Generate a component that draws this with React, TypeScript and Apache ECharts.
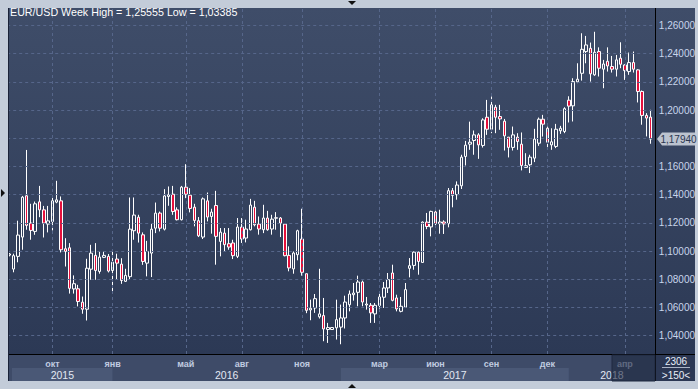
import React, { useEffect, useRef } from 'react';
import * as echarts from 'echarts';

// ---- data (weekly EUR/USD candles) ----
const opens = [
  1.0971, 1.0872, 1.0962, 1.1099, 1.1392, 1.1198, 1.1139, 1.1349, 1.1292, 1.1191,
  1.1209, 1.1347, 1.1356, 1.1016, 1.1023, 1.0731, 1.0732, 1.0637, 1.0587, 1.0871,
  1.0969, 1.0855, 1.0955, 1.0962, 1.0862, 1.0943, 1.0907, 1.0785, 1.0818, 1.1144,
  1.1240, 1.1115, 1.0914, 1.0985, 1.1162, 1.1269, 1.1155, 1.1387, 1.1403, 1.1292,
  1.1222, 1.1453, 1.1396, 1.1311, 1.1215, 1.1099, 1.1356, 1.1245, 1.1323, 1.1068,
  1.1127, 1.1052, 1.1057, 1.0962, 1.1170, 1.1092, 1.1151, 1.1311, 1.1191, 1.1151,
  1.1234, 1.1156, 1.1233, 1.1234, 1.1191, 1.0969, 1.0873, 1.0974, 1.1085, 1.0839,
  1.0582, 1.0596, 1.0533, 1.0542, 1.0443, 1.0443, 1.0455, 1.0460, 1.0525, 1.0619,
  1.0690, 1.0707, 1.0780, 1.0617, 1.0615, 1.0554, 1.0613, 1.0672, 1.0738, 1.0844,
  1.0667, 1.0572, 1.0601, 1.0877, 1.0898, 1.0992, 1.0919, 1.1205, 1.1171, 1.1277,
  1.1194, 1.1206, 1.1194, 1.1428, 1.1400, 1.1463, 1.1671, 1.1758, 1.1784, 1.1824,
  1.1749, 1.1949, 1.1864, 1.2020, 1.1954, 1.1921, 1.1808, 1.1735, 1.1808, 1.1758,
  1.1593, 1.1612, 1.1659, 1.1765, 1.1935, 1.1871, 1.1753, 1.1742, 1.1853, 1.1848,
  1.2070, 1.2030, 1.2200, 1.2261, 1.2415, 1.2438, 1.2250, 1.2415, 1.2290, 1.2346,
  1.2309, 1.2290, 1.2368, 1.2320, 1.2273, 1.2337, 1.2285, 1.2132, 1.1962, 1.1950,
];
const closes = [
  1.0979, 1.0967, 1.1113, 1.1382, 1.1182, 1.1146, 1.1335, 1.1292, 1.1198, 1.1214,
  1.1356, 1.1363, 1.1009, 1.0997, 1.0735, 1.0768, 1.0642, 1.0587, 1.0878, 1.0985,
  1.0862, 1.0957, 1.0969, 1.0858, 1.0921, 1.0914, 1.0791, 1.0827, 1.1155, 1.1255,
  1.1127, 1.0926, 1.0997, 1.1155, 1.1269, 1.1162, 1.1391, 1.1399, 1.1280, 1.1222,
  1.1453, 1.1403, 1.1302, 1.1217, 1.1108, 1.1370, 1.1241, 1.1276, 1.1104, 1.1134,
  1.1045, 1.1028, 1.0967, 1.1170, 1.1085, 1.1156, 1.1326, 1.1186, 1.1156, 1.1234,
  1.1151, 1.1226, 1.1236, 1.1198, 1.0967, 1.0880, 1.0986, 1.1144, 1.0849, 1.0579,
  1.0594, 1.0662, 1.0554, 1.0447, 1.0457, 1.0457, 1.0513, 1.0525, 1.0638, 1.0695,
  1.0702, 1.0780, 1.0638, 1.0624, 1.0561, 1.0615, 1.0674, 1.0738, 1.0797, 1.0650,
  1.0589, 1.0608, 1.0726, 1.0896, 1.0992, 1.0926, 1.1205, 1.1174, 1.1281, 1.1194,
  1.1206, 1.1192, 1.1428, 1.1395, 1.1468, 1.1666, 1.1751, 1.1772, 1.1824, 1.1753,
  1.1930, 1.1864, 1.2037, 1.1949, 1.1937, 1.1817, 1.1735, 1.1824, 1.1777, 1.1607,
  1.1605, 1.1666, 1.1794, 1.1935, 1.1900, 1.1772, 1.1775, 1.1864, 1.1871, 1.2010,
  1.2028, 1.2202, 1.2219, 1.2431, 1.2462, 1.2257, 1.2410, 1.2297, 1.2327, 1.2313,
  1.2290, 1.2356, 1.2325, 1.2280, 1.2337, 1.2290, 1.2132, 1.1962, 1.1943, 1.1794,
];
const lows = [
  1.0962, 1.0849, 1.0920, 1.1009, 1.1151, 1.1080, 1.1115, 1.1240, 1.1096, 1.1132,
  1.1146, 1.1339, 1.0990, 1.0890, 1.0698, 1.0698, 1.0607, 1.0555, 1.0507, 1.0796,
  1.0796, 1.0839, 1.0950, 1.0848, 1.0706, 1.0801, 1.0767, 1.0780, 1.0801, 1.1080,
  1.1060, 1.0902, 1.0820, 1.0815, 1.1127, 1.1139, 1.1146, 1.1321, 1.1257, 1.1217,
  1.1217, 1.1375, 1.1274, 1.1175, 1.1099, 1.1085, 1.1210, 1.1123, 1.0903, 1.0962,
  1.0998, 1.1009, 1.0943, 1.0950, 1.1057, 1.1061, 1.1146, 1.1175, 1.1116, 1.1127,
  1.1144, 1.1116, 1.1151, 1.1099, 1.0962, 1.0856, 1.0839, 1.0934, 1.0825, 1.0559,
  1.0509, 1.0561, 1.0521, 1.0360, 1.0348, 1.0440, 1.0372, 1.03385, 1.0450, 1.0572,
  1.0648, 1.0608, 1.0608, 1.0584, 1.0490, 1.0490, 1.0591, 1.0596, 1.0702, 1.0643,
  1.0572, 1.0565, 1.0596, 1.0813, 1.0867, 1.0832, 1.0919, 1.1155, 1.1104, 1.1163,
  1.1123, 1.1121, 1.1168, 1.1310, 1.1364, 1.1440, 1.1607, 1.1718, 1.1683, 1.1654,
  1.1734, 1.1824, 1.1836, 1.1836, 1.1860, 1.1713, 1.1664, 1.1713, 1.1718, 1.1572,
  1.1593, 1.1553, 1.1631, 1.1746, 1.1812, 1.1730, 1.1718, 1.1730, 1.1831, 1.1836,
  1.1912, 1.1919, 1.2191, 1.2209, 1.2332, 1.2202, 1.2243, 1.2238, 1.2155, 1.2273,
  1.2266, 1.2238, 1.2297, 1.2214, 1.2250, 1.2266, 1.2054, 1.1896, 1.1813, 1.1761,
];
const highs = [
  1.0986, 1.0981, 1.1215, 1.1391, 1.1717, 1.1335, 1.1351, 1.1462, 1.1320, 1.1320,
  1.1387, 1.1498, 1.1387, 1.1091, 1.1056, 1.0827, 1.0760, 1.0677, 1.0945, 1.1044,
  1.1056, 1.0997, 1.0997, 1.0979, 1.0997, 1.0981, 1.0949, 1.0874, 1.1380, 1.1380,
  1.1257, 1.1132, 1.1072, 1.1193, 1.1344, 1.1280, 1.1439, 1.1458, 1.1462, 1.1310,
  1.1462, 1.1616, 1.1446, 1.1335, 1.1241, 1.1380, 1.1415, 1.1300, 1.1427, 1.1163,
  1.1163, 1.1163, 1.1080, 1.1234, 1.1234, 1.1222, 1.1370, 1.1356, 1.1245, 1.1328,
  1.1285, 1.1257, 1.1276, 1.1241, 1.1198, 1.1033, 1.0997, 1.1151, 1.1300, 1.0839,
  1.0655, 1.0695, 1.0874, 1.0667, 1.0490, 1.0460, 1.0655, 1.0620, 1.0683, 1.0720,
  1.0773, 1.0825, 1.0790, 1.0674, 1.0631, 1.0631, 1.0702, 1.0780, 1.0844, 1.0903,
  1.0690, 1.0674, 1.0773, 1.0950, 1.0997, 1.0997, 1.1210, 1.1270, 1.1286, 1.1286,
  1.1293, 1.1218, 1.1447, 1.1447, 1.1494, 1.1683, 1.1781, 1.1918, 1.1855, 1.1836,
  1.1942, 1.2072, 1.2096, 1.2037, 1.2037, 1.1937, 1.1808, 1.1883, 1.1836, 1.1841,
  1.1694, 1.1683, 1.1867, 1.1947, 1.1966, 1.1883, 1.1871, 1.1902, 1.1888, 1.2020,
  1.2098, 1.2226, 1.2332, 1.2545, 1.2526, 1.2479, 1.25555, 1.2445, 1.2356, 1.2445,
  1.2384, 1.2391, 1.2481, 1.2325, 1.2408, 1.2415, 1.2290, 1.2139, 1.1978, 1.2002,
];

const yTicks = [1.04, 1.06, 1.08, 1.1, 1.12, 1.14, 1.16, 1.18, 1.2, 1.22, 1.24, 1.26];
const monthIdx = [10, 24, 41, 54, 68, 86, 99, 112, 125, 143];
const monthLabels = ['окт', 'янв', 'май', 'авг', 'ноя', 'мар', 'июн', 'сен', 'дек', 'апр'];
const yearIdx = [0, 24, 77, 130];
const yearLabels = ['2015', '2016', '2017', '2018'];
const symbol = 'EUR/USD';
const period = 'Week';
const cornerTop = '2306';
const cornerBottom = '>150<';

const fmt = (v: number) => v.toFixed(5).replace('.', ',');
const FONT = 'Liberation Sans, Arial, sans-serif';

export default function App() {
  const ref = useRef<HTMLDivElement>(null);
  useEffect(() => {
    if (!ref.current) return;
    const chart = echarts.init(ref.current, undefined, { renderer: 'svg' });
    const cats = opens.map((_, i) => String(i));
    const candles = opens.map((o, i) => [o, closes[i], lows[i], highs[i]]);
    const monthMap = new Map<number, string>();
    monthIdx.forEach((idx, k) => monthMap.set(idx, monthLabels[k]));
    const last = closes[closes.length - 1];
    // the price tag on the right axis hides the tick label it covers
    const labelTicks = yTicks.filter((v) => Math.abs(v - last) > 0.008);

    const GRID_L = 7.2;
    const GRID_W = 645.9;
    const GRID_T = 8;
    const GRID_H = 346;
    const Y_MAX = 1.272416;
    const Y_MIN = 1.026936;

    chart.setOption({
      animation: false,
      grid: { left: GRID_L, top: GRID_T, width: GRID_W, height: GRID_H, show: false },
      xAxis: {
        type: 'category',
        data: cats,
        boundaryGap: true,
        axisLine: { show: false },
        axisTick: { show: false },
        splitLine: { show: false },
        axisLabel: {
          interval: (i: number) => monthMap.has(i),
          formatter: (_v: string, i: number) => monthMap.get(i) ?? '',
          color: '#c0cbe0',
          fontSize: 9,
          fontWeight: 'bold',
          fontFamily: FONT,
          margin: 5,
        },
      },
      yAxis: {
        type: 'value',
        position: 'right',
        min: Y_MIN,
        max: Y_MAX,
        axisLine: { show: false },
        axisTick: { show: false },
        splitLine: { show: false },
        axisLabel: {
          customValues: labelTicks,
          formatter: (v: number) => fmt(v),
          color: '#c8d5ec',
          fontSize: 10,
          fontFamily: FONT,
          margin: 6,
        },
      },
      series: [
        {
          type: 'line',
          data: [],
          z: 1,
          silent: true,
          markLine: {
            silent: true,
            symbol: ['none', 'none'],
            label: { show: false },
            emphasis: { disabled: true },
            lineStyle: { color: '#56668a', type: [3, 3], width: 1 },
            data: [
              ...yTicks.map((v) => ({ yAxis: v })),
              ...monthIdx.map((i) => ({ xAxis: cats[i] })),
            ],
          },
        },
        {
          type: 'candlestick',
          z: 3,
          data: candles,
          barWidth: 3,
          itemStyle: {
            color: 'rgba(0,0,0,0)',
            color0: '#e5103c',
            borderColor: '#ffffff',
            borderColor0: '#ffffff',
            borderWidth: 1,
          },
        },
      ],
    });

    const px = (i: number, v: number) =>
      chart.convertToPixel({ xAxisIndex: 0, yAxisIndex: 0 }, [i, v]) as number[];

    const hi = Math.max(...highs);
    const lo = Math.min(...lows);
    const lastY = px(0, last)[1];

    const bandFill = ['#4a5876', '#3e4b68'];
    const plotR = 655;
    const yearEls: any[] = [];
    yearIdx.forEach((idx, k) => {
      const x0 = k === 0 ? 12 : px(idx, yTicks[0])[0];
      const x1 = k + 1 < yearIdx.length ? px(yearIdx[k + 1], yTicks[0])[0] : plotR;
      yearEls.push({
        type: 'rect',
        z: -9,
        shape: { x: x0, y: 368, width: x1 - x0, height: 13 },
        style: { fill: bandFill[k % 2] },
      });
      yearEls.push({
        type: 'text',
        z: 6,
        style: {
          text: yearLabels[k],
          x: (x0 + x1) / 2,
          y: 375,
          fill: '#e2e8f3',
          fontSize: 10.5,
          fontFamily: FONT,
          textAlign: 'center',
          textVerticalAlign: 'middle',
        },
      });
    });

    const bgGrad = new echarts.graphic.LinearGradient(0, 0, 0, 1, [
      { offset: 0, color: '#3f4d69' },
      { offset: 1, color: '#2c3955' },
    ]);

    chart.setOption({
      graphic: [
        { type: 'rect', z: -10, shape: { x: 9, y: 8, width: 646, height: 346 }, style: { fill: bgGrad } },
        { type: 'rect', z: -10, shape: { x: 656, y: 8, width: 39, height: 346 }, style: { fill: bgGrad } },
        { type: 'rect', z: -10, shape: { x: 9, y: 355, width: 646, height: 26 }, style: { fill: '#3e4b68' } },
        { type: 'rect', z: -10, shape: { x: 656, y: 355, width: 39, height: 26 }, style: { fill: '#2b3753' } },
        ...yearEls,
        { type: 'line', z: 5, shape: { x1: 655.5, y1: 8, x2: 655.5, y2: 381 }, style: { stroke: '#000000', lineWidth: 1 } },
        { type: 'line', z: 5, shape: { x1: 9, y1: 354.5, x2: 695, y2: 354.5 }, style: { stroke: '#000000', lineWidth: 1 } },
        { type: 'rect', z: 7, shape: { x: 612, y: 355, width: 43, height: 26 }, style: { fill: 'rgba(30,40,64,0.6)', stroke: '#1e2840', lineWidth: 1 } },
        { type: 'rect', z: 8, shape: { x: 0, y: 0, width: 8, height: 389 }, style: { fill: '#c3ccd9' } },
        { type: 'line', z: 8, shape: { x1: 8.5, y1: 8, x2: 8.5, y2: 381 }, style: { stroke: '#1a2238', lineWidth: 1 } },
        { type: 'polygon', z: 9, shape: { points: [[348, 1], [356, 1], [352, 5]] }, style: { fill: '#111111' } },
        { type: 'polygon', z: 9, shape: { points: [[1, 189], [1, 197], [5, 193]] }, style: { fill: '#111111' } },
        { type: 'polygon', z: 9, shape: { points: [[348, 388], [356, 388], [352, 384]] }, style: { fill: '#111111' } },
        {
          type: 'polygon',
          z: 9,
          shape: { points: [[657, lastY], [662, lastY - 6.5], [695, lastY - 6.5], [695, lastY + 6.5], [662, lastY + 6.5]] },
          style: { fill: '#bcc3cf' },
        },
        {
          type: 'text',
          z: 10,
          style: { text: fmt(last), x: 678.5, y: lastY, fill: '#2a3650', fontSize: 10, fontFamily: FONT, textAlign: 'center', textVerticalAlign: 'middle' },
        },
        {
          type: 'text',
          z: 9,
          style: { text: cornerTop, x: 676, y: 361.5, fill: '#e8eef8', fontSize: 10, fontFamily: FONT, textAlign: 'center', textVerticalAlign: 'middle' },
        },
        { type: 'line', z: 9, shape: { x1: 662, y1: 367.5, x2: 690, y2: 367.5 }, style: { stroke: '#aab4c6', lineWidth: 1 } },
        {
          type: 'text',
          z: 9,
          style: { text: cornerBottom, x: 676, y: 375, fill: '#e8eef8', fontSize: 10, fontFamily: FONT, textAlign: 'center', textVerticalAlign: 'middle' },
        },
        {
          type: 'text',
          z: 9,
          style: {
            text: `${symbol} ${period} High = ${fmt(hi)} Low = ${fmt(lo)}`,
            x: 10,
            y: 12,
            fill: '#ffffff',
            fontSize: 10.7,
            fontFamily: FONT,
            textAlign: 'left',
            textVerticalAlign: 'middle',
          },
        },
      ],
    });

    return () => chart.dispose();
  }, []);

  return (
    <div
      style={{ position: 'fixed', left: 0, top: 0, width: 698, height: 389, background: '#c3ccd9' }}
    >
      <div ref={ref} style={{ width: 698, height: 389 }} />
    </div>
  );
}
